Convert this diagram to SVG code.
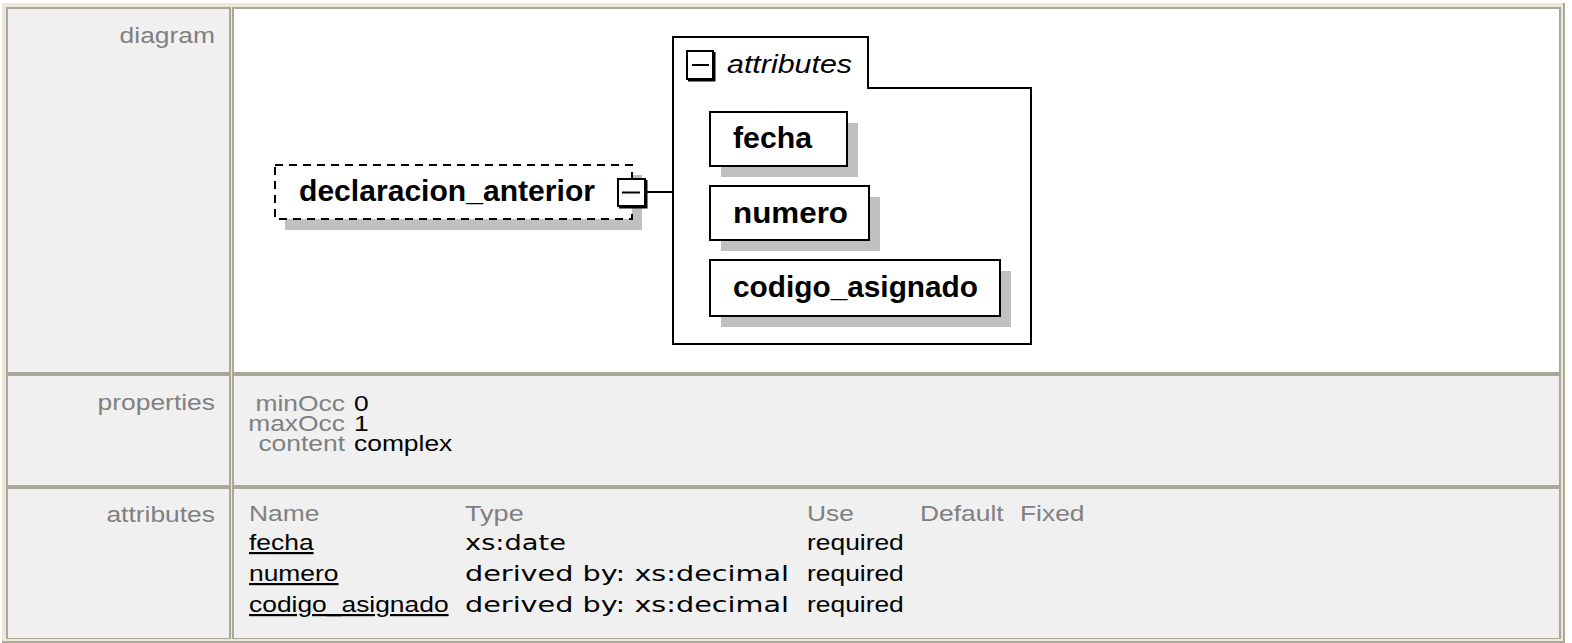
<svg xmlns="http://www.w3.org/2000/svg" width="1572" height="643" viewBox="0 0 1572 643">
<style>
.lbl{font-family:"Liberation Sans",Arial,sans-serif;font-size:22px;fill:#808080}
.val{font-family:"Liberation Sans",Arial,sans-serif;font-size:22px;fill:#000}
.typ{font-family:"DejaVu Sans",Verdana,sans-serif;font-size:21px;fill:#000}
.lnk{text-decoration:underline}
.el{font-family:"Liberation Sans",Arial,sans-serif;font-size:30px;font-weight:bold;fill:#000}
.shadow{fill:#c0c0c0}
.box{fill:#fff;stroke:#000;stroke-width:2}
.dark{fill:#aca899}
.light{fill:#ece9d8}
</style>
<rect x="0" y="0" width="1572" height="643" fill="#fff"/>
<g id="table">
<rect class="light" x="2" y="3" width="1563" height="640"/>
<rect class="dark" x="2" y="641" width="1563" height="2"/>
<rect class="dark" x="1563" y="3" width="2" height="640"/>
<rect class="dark" x="6" y="7" width="225" height="367"/>
<rect fill="#f0f0f0" x="8" y="9" width="221" height="363"/>
<rect class="dark" x="232" y="7" width="1329" height="367"/>
<rect fill="#fff" x="234" y="9" width="1325" height="363"/>
<rect class="dark" x="6" y="374" width="225" height="113"/>
<rect fill="#f0f0f0" x="8" y="376" width="221" height="109"/>
<rect class="dark" x="232" y="374" width="1329" height="113"/>
<rect fill="#f0f0f0" x="234" y="376" width="1325" height="109"/>
<rect class="dark" x="6" y="487" width="225" height="152"/>
<rect fill="#f0f0f0" x="8" y="489" width="221" height="149"/>
<rect class="dark" x="232" y="487" width="1329" height="152"/>
<rect fill="#f0f0f0" x="234" y="489" width="1325" height="149"/>
</g>
<g id="labels">
<text class="lbl" x="119.6" y="43" textLength="95.4" lengthAdjust="spacingAndGlyphs">diagram</text>
<text class="lbl" x="97.6" y="410" textLength="117.4" lengthAdjust="spacingAndGlyphs">properties</text>
<text class="lbl" x="106.4" y="522" textLength="108.6" lengthAdjust="spacingAndGlyphs">attributes</text>
</g>
<g id="properties">
<text class="lbl" x="255.5" y="411" textLength="89.5" lengthAdjust="spacingAndGlyphs">minOcc</text>
<text class="val" x="354" y="411" textLength="14.7" lengthAdjust="spacingAndGlyphs">0</text>
<text class="lbl" x="248.2" y="431" textLength="96.8" lengthAdjust="spacingAndGlyphs">maxOcc</text>
<text class="val" x="354" y="431" textLength="14.7" lengthAdjust="spacingAndGlyphs">1</text>
<text class="lbl" x="258.4" y="451" textLength="86.6" lengthAdjust="spacingAndGlyphs">content</text>
<text class="val" x="354" y="451" textLength="98.3" lengthAdjust="spacingAndGlyphs">complex</text>
</g>
<g id="attributes-table">
<text class="lbl" x="249" y="521" textLength="70.4" lengthAdjust="spacingAndGlyphs">Name</text>
<text class="lbl" x="465" y="521" textLength="58.7" lengthAdjust="spacingAndGlyphs">Type</text>
<text class="lbl" x="807" y="521" textLength="46.9" lengthAdjust="spacingAndGlyphs">Use</text>
<text class="lbl" x="920" y="521" textLength="83.6" lengthAdjust="spacingAndGlyphs">Default</text>
<text class="lbl" x="1020" y="521" textLength="64.5" lengthAdjust="spacingAndGlyphs">Fixed</text>
<text class="val lnk" x="249" y="550" textLength="64.6" lengthAdjust="spacingAndGlyphs">fecha</text>
<text class="typ" x="465" y="550" textLength="101" lengthAdjust="spacingAndGlyphs">xs:date</text>
<text class="val" x="807" y="550" textLength="96.8" lengthAdjust="spacingAndGlyphs">required</text>
<text class="val lnk" x="249" y="581" textLength="89.5" lengthAdjust="spacingAndGlyphs">numero</text>
<text class="typ" x="465" y="581" textLength="324" lengthAdjust="spacingAndGlyphs">derived by: xs:decimal</text>
<text class="val" x="807" y="581" textLength="96.8" lengthAdjust="spacingAndGlyphs">required</text>
<text class="val lnk" x="249" y="612" textLength="199.6" lengthAdjust="spacingAndGlyphs">codigo_asignado</text>
<text class="typ" x="465" y="612" textLength="324" lengthAdjust="spacingAndGlyphs">derived by: xs:decimal</text>
<text class="val" x="807" y="612" textLength="96.8" lengthAdjust="spacingAndGlyphs">required</text>
</g>
<g id="connectors">
<line x1="647" y1="192" x2="673" y2="192" stroke="#000" stroke-width="2"/>
</g>
<g id="node-declaracion_anterior">
<rect class="shadow" x="285" y="175" width="357" height="55"/>
<rect x="275" y="165" width="357" height="54" fill="#fff" stroke="#000" stroke-width="2" stroke-dasharray="8,6"/>
<text class="el" x="299" y="201" textLength="296" lengthAdjust="spacingAndGlyphs">declaracion_anterior</text>
<rect x="618" y="179" width="27" height="27" fill="#fff" stroke="#000" stroke-width="2"/>
<path d="M619,207 H646 V180" fill="none" stroke="#000" stroke-width="3"/>
<line x1="622" y1="192.5" x2="640" y2="192.5" stroke="#000" stroke-width="2"/>
</g>
<g id="node-attributes">
<path d="M673,37 H868 V88 H1031 V344 H673 Z" fill="#fff" stroke="#000" stroke-width="2"/>
<rect x="687" y="51" width="26" height="28" fill="#fff" stroke="#000" stroke-width="2"/>
<path d="M688,80 H714 V52" fill="none" stroke="#000" stroke-width="3"/>
<line x1="692" y1="65" x2="709" y2="65" stroke="#000" stroke-width="2"/>
<text x="727" y="73" font-family="Liberation Sans, Arial, sans-serif" font-size="26" font-style="italic" fill="#000" textLength="125" lengthAdjust="spacingAndGlyphs">attributes</text>
</g>
<g id="node-fecha">
<rect class="shadow" x="721" y="123" width="137" height="54"/>
<rect class="box" x="710" y="112" width="137" height="54"/>
<text class="el" x="733" y="148" textLength="79" lengthAdjust="spacingAndGlyphs">fecha</text>
</g>
<g id="node-numero">
<rect class="shadow" x="721" y="197" width="159" height="54"/>
<rect class="box" x="710" y="186" width="159" height="54"/>
<text class="el" x="733" y="223" textLength="115" lengthAdjust="spacingAndGlyphs">numero</text>
</g>
<g id="node-codigo_asignado">
<rect class="shadow" x="721" y="271" width="290" height="56"/>
<rect class="box" x="710" y="260" width="290" height="56"/>
<text class="el" x="733" y="297" textLength="245" lengthAdjust="spacingAndGlyphs">codigo_asignado</text>
</g>
</svg>
